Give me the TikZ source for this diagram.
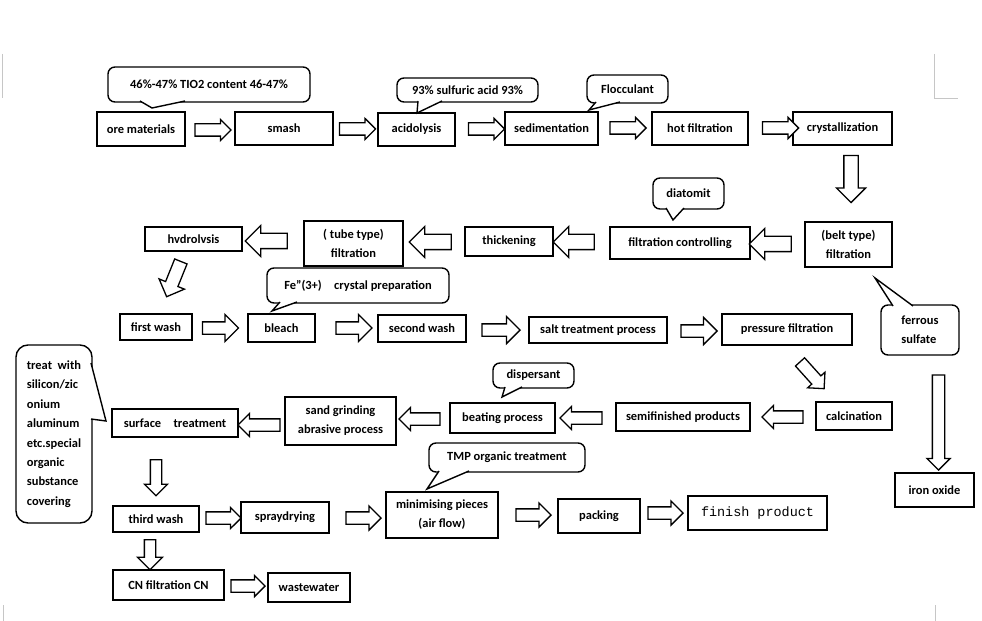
\documentclass[tikz,border=0pt]{standalone}
\usepackage{fontspec}
\setmainfont{Carlito}
\setmonofont{Liberation Mono}
\usetikzlibrary{shapes.arrows,calc}

\begin{document}
\begin{tikzpicture}[x=1bp, y=-1bp,
    box/.style={rectangle, draw=black, line width=1.4bp, fill=white,
                inner sep=1bp, align=center,
                font=\bfseries\fontsize{12.5}{19}\selectfont},
    tbox/.style={box, line width=2.2bp},
    bubble/.style={rectangle, rounded corners=7bp, draw=black,
                   line width=1.4bp, fill=white, outer sep=0pt,
                   inner sep=1bp, align=center,
                   font=\bfseries\fontsize{12.5}{19.5}\selectfont},
    tail/.style={draw=black, fill=white, line width=1.4bp, line join=miter},
    barr/.style={single arrow, draw=black, fill=white, line width=1.3bp,
                 inner xsep=0pt, inner ysep=5.5bp, minimum height=36bp,
                 single arrow head extend=4.5bp},
    cropmark/.style={draw=gray!45, line width=0.8bp},
]
\useasboundingbox (0,0) rectangle (982,621);

%% --- page corner marks ---
\draw[cropmark] (2,54) -- (2,98);
\draw[cropmark] (934,54) -- (934,98) -- (958,98);
\draw[cropmark] (3,605) -- (3,621);
\draw[cropmark] (935,605) -- (935,621);

%% --- row 1 ---
\node[box, minimum width=88bp, minimum height=34bp] (ore) at (141,129) {ore materials};
\node[box, minimum width=98bp, minimum height=33bp] (smash) at (284,128.5) {smash};
\node[box, minimum width=77bp, minimum height=33bp] (acid) at (416.5,129.5) {acidolysis};
\node[box, minimum width=93bp, minimum height=33bp] (sedim) at (551.5,128.5) {sedimentation};
\node[box, minimum width=96bp, minimum height=33bp] (hotfilt) at (700,128.5) {hot filtration};
\node[box, minimum width=99bp, minimum height=33bp] (cryst) at (842.5,128.5) {crystallization};

\node[barr] (a_ore) at (210,130) {};
\node[barr] (a_smash) at (354.5,129) {};
\node[barr] (a_acid) at (483.5,129) {};
\node[barr] (a_sedim) at (625,128) {};
\node[barr] (a_hot) at (777.5,128) {};
\node[barr, rotate=-90, minimum height=47bp, inner ysep=6.5bp,
      single arrow head extend=7.5bp] (a_cryst) at (851,175.5) {};

%% --- callouts row 1 ---
\node[bubble, minimum width=202bp, minimum height=35bp] (c_tio2) at (209,84.5)
    {46\%-47\% TIO2 content 46-47\%};
\draw[tail] ($(c_tio2.south west)+(32,-1)$) -- (152,108) -- ($(c_tio2.south west)+(77,-1)$);
\node[bubble, minimum width=141bp, minimum height=24bp] (c_sulf) at (467.5,90)
    {93\% sulfuric acid 93\%};
\draw[tail] ($(c_sulf.south west)+(21,-1)$) -- (417,113) -- ($(c_sulf.south west)+(45,-1)$);
\node[bubble, minimum width=81bp, minimum height=28bp] (c_floc) at (627.5,89) {Flocculant};
\draw[tail] ($(c_floc.south west)+(9,-1)$) -- (589,110) -- ($(c_floc.south west)+(33,-1)$);

%% --- row 2 ---
\node[box, minimum width=87bp, minimum height=45bp] (belt) at (848.5,244.5) {(belt type)\\filtration};
\node[box, minimum width=140bp, minimum height=32bp] (filtctrl) at (680,243) {filtration controlling};
\node[tbox, minimum width=88bp, minimum height=29bp] (thick) at (509,241.5) {thickening};
\node[box, minimum width=99bp, minimum height=45bp] (tube) at (353.5,243.5) {( tube type)\\filtration};
\node[tbox, minimum width=97bp, minimum height=24bp] (hydro) at (193.5,239) {hvdrolvsis};

\node[barr, rotate=180, minimum height=42bp, inner ysep=7bp,
      single arrow head extend=8bp] (a_belt) at (774,244) {};
\node[barr, rotate=180, minimum height=41bp, inner ysep=7bp,
      single arrow head extend=8bp] (a_ctrl) at (577.5,242) {};
\node[barr, rotate=180, minimum height=42bp, inner ysep=7bp,
      single arrow head extend=8bp] (a_thick) at (434,242) {};
\node[barr, rotate=180, minimum height=42bp, inner ysep=7bp,
      single arrow head extend=8bp] (a_tube) at (270,241) {};
\node[barr, rotate=-112, minimum height=38bp, inner ysep=6bp,
      single arrow head extend=7bp] (a_hydro) at (175,276) {};

\node[bubble, minimum width=71bp, minimum height=31bp] (c_diat) at (688.5,193.5) {diatomit};
\draw[tail] ($(c_diat.south west)+(13,-1)$) -- (673,220) -- ($(c_diat.south west)+(31,-1)$);

%% --- row 3 ---
\node[box, minimum width=72bp, minimum height=26bp] (wash1) at (156,327) {first wash};
\node[box, minimum width=67bp, minimum height=28bp] (bleach) at (281.5,328) {bleach};
\node[box, minimum width=88bp, minimum height=27bp] (wash2) at (422,328.5) {second wash};
\node[tbox, minimum width=138bp, minimum height=26bp] (salt) at (598,330) {salt treatment process};
\node[box, minimum width=130bp, minimum height=31bp] (press) at (787,329.5) {pressure filtration};

\node[barr, inner ysep=5.5bp, single arrow head extend=7.5bp] (a_wash1) at (217.5,328) {};
\node[barr, inner ysep=5.5bp, single arrow head extend=7.5bp] (a_bleach) at (351,328) {};
\node[barr, minimum height=38bp, inner ysep=5.5bp, single arrow head extend=7.5bp] (a_wash2) at (498,330) {};
\node[barr, inner ysep=5.5bp, single arrow head extend=7.5bp] (a_salt) at (696,331) {};
\node[barr, rotate=-48, inner ysep=5.5bp, single arrow head extend=5.5bp] (a_press) at (810,373) {};

\node[bubble, minimum width=182bp, minimum height=35bp] (c_fe) at (358,285.5)
    {Fe''(3+)\quad crystal preparation};
\draw[tail] ($(c_fe.south west)+(13,-1)$) -- (272,311) -- ($(c_fe.south west)+(30,-1)$);

\node[bubble, align=left, minimum width=78bp, minimum height=50bp] (c_ferr) at (920,330)
    {ferrous\\sulfate\hspace{8bp}};
\draw[tail] ($(c_ferr.north west)+(12,1)$) -- (875,278) -- ($(c_ferr.north west)+(32,1)$);

\node[barr, rotate=-90, minimum height=95bp, inner ysep=5.5bp,
      single arrow head extend=5.5bp] (a_ferr) at (938.5,419.5) {};
\node[box, minimum width=79bp, minimum height=34bp] (ironox) at (934.5,490) {iron oxide};

%% --- row 4 ---
\node[box, minimum width=76bp, minimum height=28bp] (calc) at (854,416) {calcination};
\node[box, minimum width=134bp, minimum height=28bp] (semi) at (683,417) {semifinished products};
\node[box, minimum width=105bp, minimum height=30bp] (beat) at (502.5,418) {beating process};
\node[box, minimum width=111bp, minimum height=48bp] (sand) at (340.5,421) {sand grinding\\abrasive process};
\node[box, minimum width=126bp, minimum height=28bp] (surf) at (175,423) {surface\quad treatment};

\node[barr, rotate=180, minimum height=41bp, single arrow head extend=5.5bp] (a_calc) at (785.5,417) {};
\node[barr, rotate=180, minimum height=42bp, single arrow head extend=5.5bp] (a_semi) at (584,418) {};
\node[barr, rotate=180, minimum height=41bp, single arrow head extend=5.5bp] (a_beat) at (422.5,419) {};
\node[barr, rotate=180, minimum height=42bp, single arrow head extend=5.5bp] (a_sand) at (262,425) {};
\node[barr, rotate=-90, minimum height=36bp, inner ysep=5bp,
      single arrow head extend=6bp] (a_surf) at (156,475) {};

\node[bubble, minimum width=81bp, minimum height=25bp] (c_disp) at (533.5,375.5) {dispersant};
\draw[tail] ($(c_disp.south west)+(12,-1)$) -- (502,397) -- ($(c_disp.south west)+(29,-1)$);

\node[bubble, align=left, rounded corners=12bp, minimum width=76bp, minimum height=178bp]
    (c_treat) at (54,434)
    {treat\ \ with\\silicon/zic\\onium\\aluminum\\etc.special\\organic\\substance\\covering};
\draw[tail] ($(c_treat.north east)+(-1,18)$) -- (106,421) -- ($(c_treat.north east)+(-1,74)$);

%% --- row 5 ---
\node[box, minimum width=86bp, minimum height=26bp] (wash3) at (156,519) {third wash};
\node[box, minimum width=88bp, minimum height=31bp] (spray) at (285,517.5) {spraydrying};
\node[box, minimum width=112bp, minimum height=46bp] (mini) at (442,515) {minimising pieces\\(air flow)};
\node[tbox, minimum width=82bp, minimum height=34bp] (pack) at (599,516) {packing};
\node[tbox, minimum width=139bp, minimum height=34bp,
      font=\ttfamily\fontsize{13.5}{16}\selectfont] (finish) at (757.5,513) {finish product};

\node[barr, minimum height=35bp] (a_wash3) at (220.5,518) {};
\node[barr, minimum height=35bp, single arrow head extend=6bp] (a_spray) at (360.5,518) {};
\node[barr, minimum height=35bp, single arrow head extend=6bp] (a_mini) at (530.5,515) {};
\node[barr, minimum height=35bp, single arrow head extend=6bp] (a_pack) at (662.5,513) {};
\node[barr, rotate=-90, minimum height=30bp, inner ysep=5bp,
      single arrow head extend=7bp] (a_down3) at (150,552) {};

\node[bubble, minimum width=156bp, minimum height=29bp] (c_tmp) at (507,457.5) {TMP organic treatment};
\draw[tail] ($(c_tmp.south west)+(10,-1)$) -- (427,489) -- ($(c_tmp.south west)+(40,-1)$);

%% --- row 6 ---
\node[box, minimum width=111bp, minimum height=30bp] (cnfilt) at (168.5,585) {CN filtration CN};
\node[box, minimum width=82bp, minimum height=29bp] (waste) at (309,587.5) {wastewater};
\node[barr, minimum height=34bp] (a_cn) at (245,586) {};

\end{tikzpicture}
\end{document}
